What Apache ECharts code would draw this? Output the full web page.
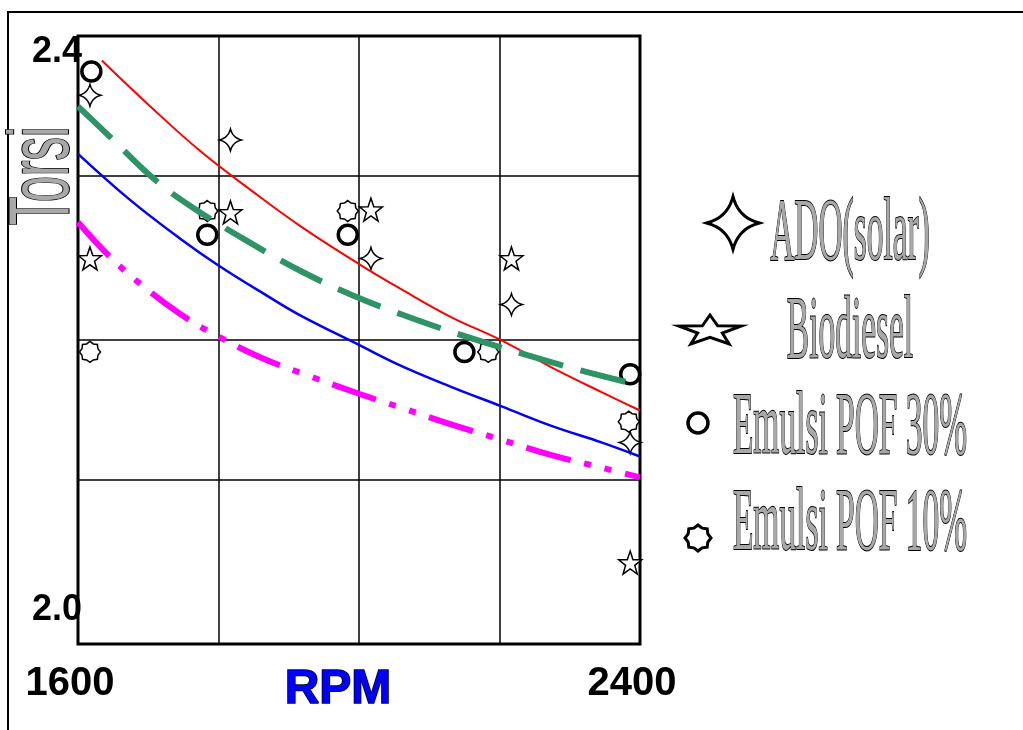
<!DOCTYPE html>
<html>
<head>
<meta charset="utf-8">
<script src="https://cdn.jsdelivr.net/npm/echarts@6/dist/echarts.min.js"></script>
<style>
  html, body { margin: 0; padding: 0; background: #fff; }
  #main { width: 1023px; height: 730px; }
</style>
</head>
<body>
<div id="main"></div>
<script>
// tick labels
const xTickLabels = [1600, 2400];
const yTickLabels = [2.0, 2.4];
const yGridValues = [2.093, 2.194, 2.311];

const legendNames = ['ADO(solar)', 'Biodiesel', 'Emulsi POF 30%', 'Emulsi POF 10%'];

// measured points
const adoRpm = [1617, 1817, 2017, 2217, 2386];
const adoTorsi = [2.369, 2.337, 2.252, 2.219, 2.120];

const bioRpm = [1617, 1817, 2017, 2217, 2386];
const bioTorsi = [2.252, 2.285, 2.287, 2.252, 2.034];

const pof30Rpm = [1619, 1784, 1984, 2150, 2386];
const pof30Torsi = [2.386, 2.269, 2.269, 2.185, 2.169];

const pof10Rpm = [1617, 1784, 1984, 2184, 2384];
const pof10Torsi = [2.185, 2.286, 2.286, 2.185, 2.135];

// trend lines
const redRpm = [1634, 1703, 1774, 1846, 1917, 2000, 2060, 2131, 2200, 2274, 2346, 2400];
const redTorsi = [2.394, 2.361, 2.329, 2.301, 2.275, 2.248, 2.230, 2.210, 2.194, 2.174, 2.156, 2.143];

const greenRpm = [1600, 1646, 1713, 1774, 1846, 1917, 1989, 2060, 2146, 2231, 2321, 2384];
const greenTorsi = [2.361, 2.339, 2.307, 2.285, 2.263, 2.243, 2.226, 2.212, 2.197, 2.184, 2.171, 2.163];

const blueRpm = [1600, 1674, 1746, 1800, 1870, 1917, 2000, 2060, 2131, 2203, 2274, 2346, 2400];
const blueTorsi = [2.327, 2.294, 2.266, 2.247, 2.225, 2.211, 2.190, 2.175, 2.160, 2.146, 2.132, 2.120, 2.110];

const pinkRpm = [1600, 1646, 1693, 1746, 1800, 1860, 1917, 2000, 2060, 2131, 2203, 2274, 2346, 2400];
const pinkTorsi = [2.278, 2.253, 2.232, 2.212, 2.196, 2.181, 2.170, 2.155, 2.145, 2.133, 2.122, 2.111, 2.102, 2.095];

const zip = (xs, ys) => xs.map((x, i) => [x, ys[i]]);

// symbol outlines in a unit box (-10..10)
function starPts(n, ro, ri) {
  const pts = [];
  for (let i = 0; i < 2 * n; i++) {
    const r = i % 2 ? ri : ro;
    const a = -Math.PI / 2 + i * Math.PI / n;
    pts.push([r * Math.cos(a), r * Math.sin(a)]);
  }
  return pts;
}

function star4Pts() {
  // four quadratic arcs between the tips, control point near the centre
  const tips = [[0, -10], [10, 0], [0, 10], [-10, 0]];
  const ctrl = [[2, -2], [2, 2], [-2, 2], [-2, -2]];
  const pts = [];
  for (let k = 0; k < 4; k++) {
    const p0 = tips[k], p1 = ctrl[k], p2 = tips[(k + 1) % 4];
    for (let s = 0; s < 10; s++) {
      const t = s / 10, u = 1 - t;
      pts.push([u * u * p0[0] + 2 * u * t * p1[0] + t * t * p2[0],
                u * u * p0[1] + 2 * u * t * p1[1] + t * t * p2[1]]);
    }
  }
  return pts;
}

const toPath = pts => 'path://' + pts.map((p, i) => (i ? 'L' : 'M') + p[0].toFixed(2) + ',' + p[1].toFixed(2)).join('') + 'Z';
const placePts = (pts, cx, cy, w, h) => pts.map(p => [cx + p[0] * w / 20, cy + p[1] * h / 20]);

const star4 = star4Pts();
const star5 = starPts(5, 10, 4);
const star8 = starPts(8, 10, 8.2);

let myChart = echarts.init(document.getElementById('main'));

const markerStyle = { color: '#fff', borderColor: '#000', borderWidth: 1.5, opacity: 1 };

const lineSeries = (name, data, color, width, dash) => ({
  name: name,
  type: 'line',
  smooth: 0.4,
  showSymbol: false,
  silent: true,
  z: 5,
  data: data,
  lineStyle: { color: color, width: width, type: dash || 'solid', cap: 'butt' }
});

const outlinedText = (txt, x, y, font, sx) => ({
  type: 'text',
  x: x,
  y: y,
  scaleX: sx,
  style: {
    text: txt,
    font: font,
    fill: '#a8a8a8',
    stroke: '#000',
    lineWidth: 2,
    align: 'center',
    verticalAlign: 'middle'
  }
});

const serifFont = '88px "Liberation Serif", "DejaVu Serif", serif';
const iconStyle = { fill: '#fff', stroke: '#000', lineWidth: 3 };

let option = {
  animation: false,
  grid: {
    left: 78,
    top: 36,
    right: 383,
    bottom: 86,
    outerBoundsMode: 'none',
    containLabel: false,
    show: true,
    borderColor: '#000',
    borderWidth: 3,
    backgroundColor: 'transparent'
  },
  xAxis: {
    type: 'value',
    min: 1600,
    max: 2400,
    interval: 200,
    name: 'RPM',
    nameLocation: 'middle',
    nameGap: 22,
    nameMoveOverlap: false,
    nameTextStyle: {
      fontFamily: '"Liberation Sans", Arial, sans-serif',
      fontWeight: 'bold',
      fontSize: 48,
      color: '#0000ff',
      textBorderColor: '#000',
      textBorderWidth: 1.5,
      verticalAlign: 'top',
      padding: [0, 42, 0, 0]
    },
    axisLine: { show: false },
    axisTick: { show: false },
    splitLine: { show: true, lineStyle: { color: '#000', width: 1.5 } },
    axisLabel: {
      margin: 20,
      padding: [0, 16, 0, 0],
      fontFamily: '"Liberation Sans", Arial, sans-serif',
      fontWeight: 'bold',
      fontSize: 40,
      color: '#000',
      formatter: v => (xTickLabels.indexOf(v) >= 0 ? String(v) : '')
    }
  },
  yAxis: {
    type: 'value',
    min: 1.9756,
    max: 2.4115,
    axisLine: { show: false },
    axisTick: { show: false, customValues: yGridValues },
    splitLine: { show: true, lineStyle: { color: '#000', width: 1.5 } },
    axisLabel: {
      customValues: yTickLabels,
      margin: -4,
      fontFamily: '"Liberation Sans", Arial, sans-serif',
      fontWeight: 'bold',
      fontSize: 36,
      color: '#000',
      formatter: v => v.toFixed(1)
    }
  },
  graphic: [
    // outer frame
    { type: 'rect', shape: { x: 8, y: 12, width: 1100, height: 800 }, style: { fill: 'none', stroke: '#000', lineWidth: 2 }, silent: true },
    // y axis title, rotated
    Object.assign(outlinedText('Torsi', 45, 176, '85px "Liberation Sans", Arial, sans-serif', 0.55), { rotation: Math.PI / 2 }),
    // legend
    { type: 'polygon', shape: { points: placePts(star4, 733, 223, 53, 53) }, style: iconStyle },
    { type: 'polygon', shape: { points: placePts(star5, 710, 331, 65, 32) }, style: iconStyle },
    { type: 'circle', shape: { cx: 698, cy: 423, r: 10 }, style: { fill: '#fff', stroke: '#000', lineWidth: 3.5 } },
    { type: 'polygon', shape: { points: placePts(star8, 698, 538, 26, 26) }, style: iconStyle },
    outlinedText(legendNames[0], 850, 236, serifFont, 0.38),
    outlinedText(legendNames[1], 850, 334, serifFont, 0.38),
    outlinedText(legendNames[2], 850, 430, serifFont, 0.38),
    outlinedText(legendNames[3], 850, 526, serifFont, 0.38)
  ],
  series: [
    {
      name: legendNames[0], type: 'scatter', z: 3,
      symbol: toPath(star4), symbolSize: 22,
      itemStyle: markerStyle, data: zip(adoRpm, adoTorsi)
    },
    {
      name: legendNames[1], type: 'scatter', z: 3,
      symbol: toPath(star5), symbolSize: 23,
      itemStyle: markerStyle, data: zip(bioRpm, bioTorsi)
    },
    {
      name: legendNames[2], type: 'scatter', z: 3,
      symbol: 'circle', symbolSize: 19,
      itemStyle: { color: '#fff', borderColor: '#000', borderWidth: 3.5, opacity: 1 },
      data: zip(pof30Rpm, pof30Torsi)
    },
    {
      name: legendNames[3], type: 'scatter', z: 3,
      symbol: toPath(star8), symbolSize: 21,
      itemStyle: markerStyle, data: zip(pof10Rpm, pof10Torsi)
    },
    lineSeries('red', zip(redRpm, redTorsi), '#ff0000', 2),
    lineSeries('green', zip(greenRpm, greenTorsi), '#2e9466', 6, [46, 18]),
    lineSeries('blue', zip(blueRpm, blueTorsi), '#0000ff', 2.5),
    lineSeries('pink', zip(pinkRpm, pinkTorsi), '#ff00ff', 6, [46, 14, 7, 14, 7, 14])
  ]
};

myChart.setOption(option);
</script>
</body>
</html>
